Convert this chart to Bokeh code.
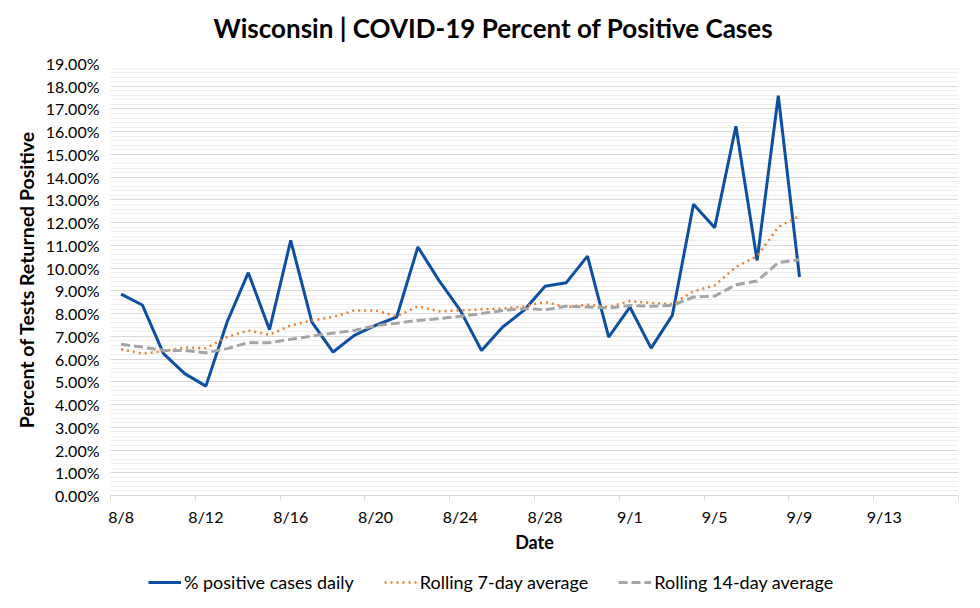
from bokeh.plotting import figure
from bokeh.layouts import column
from bokeh.models import (ColumnDataSource, FixedTicker, PrintfTickFormatter,
                          Range1d, Legend, LegendItem, Title)
from bokeh.embed import file_html
from bokeh.resources import INLINE

# ---- data -------------------------------------------------------------
dates = ["8/8", "8/9", "8/10", "8/11", "8/12", "8/13", "8/14", "8/15", "8/16",
         "8/17", "8/18", "8/19", "8/20", "8/21", "8/22", "8/23", "8/24", "8/25",
         "8/26", "8/27", "8/28", "8/29", "8/30", "8/31", "9/1", "9/2", "9/3",
         "9/4", "9/5", "9/6", "9/7", "9/8", "9/9"]
daily = [8.86, 8.38, 6.24, 5.36, 4.81, 7.63, 9.80, 7.29, 11.22, 7.63, 6.31,
         7.04, 7.48, 7.85, 10.93, 9.45, 8.14, 6.38, 7.41, 8.14, 9.20, 9.36,
         10.53, 6.97, 8.29, 6.48, 7.92, 12.81, 11.78, 16.24, 10.34, 17.58, 9.61]
avg7 = [6.43, 6.24, 6.34, 6.51, 6.48, 6.97, 7.26, 7.07, 7.48, 7.70, 7.85,
        8.14, 8.14, 7.88, 8.32, 8.10, 8.14, 8.19, 8.22, 8.32, 8.51, 8.29,
        8.39, 8.29, 8.55, 8.47, 8.42, 8.98, 9.24, 10.05, 10.53, 11.81, 12.29]
avg14 = [6.65, 6.53, 6.38, 6.38, 6.28, 6.46, 6.72, 6.72, 6.87, 7.01, 7.14,
         7.26, 7.47, 7.58, 7.70, 7.78, 7.88, 8.00, 8.14, 8.22, 8.17, 8.32,
         8.29, 8.25, 8.36, 8.32, 8.36, 8.73, 8.77, 9.27, 9.43, 10.24, 10.37]
tick_labels = ["8/8", "8/12", "8/16", "8/20", "8/24", "8/28", "9/1", "9/5",
               "9/9", "9/13"]
series_names = ["% positive cases daily", "Rolling 7-day average",
                "Rolling 14-day average"]
n_days_axis = 40  # 8/8 .. 9/16

FONT = "Lato"
BLUE, ORANGE, GREY = "#0D4FA3", "#ED7D31", "#A5A5A5"
STYLES = [dict(line_color=BLUE, line_width=3),
          dict(line_color=ORANGE, line_width=2.5, line_dash="2 4"),
          dict(line_color=GREY, line_width=3, line_dash="9 4")]

x = list(range(len(dates)))
src = ColumnDataSource(dict(x=x, date=dates, daily=daily, avg7=avg7, avg14=avg14))

W = 964
p = figure(width=W, height=565, output_backend="svg", toolbar_location=None,
           x_range=Range1d(-0.5, n_days_axis - 0.5), y_range=Range1d(0, 19),
           min_border_left=110, min_border_right=6, min_border_top=63,
           min_border_bottom=70)
p.background_fill_color = "white"
p.border_fill_color = "white"
p.outline_line_color = None
p.title.text = ""

# spacer (nearest the frame) and the visible title above it
spacer = Title(text=" ", text_font_size="2px", standoff=16)
p.add_layout(spacer, "above")
main_title = Title(text="Wisconsin | COVID-19 Percent of Positive Cases",
                   align="left", offset=103, standoff=0,
                   text_font=FONT, text_font_style="bold",
                   text_font_size="26px", text_color="black")
p.add_layout(main_title, "above")

# x axis
xt = list(range(0, n_days_axis, 4))
p.xaxis.ticker = FixedTicker(ticks=xt,
                             minor_ticks=[v - 0.5 for v in range(0, n_days_axis + 1, 4)])
p.xaxis.major_label_overrides = {t: lab for t, lab in zip(xt, tick_labels)}
p.xaxis.axis_line_color = "#D9D9D9"
p.xaxis.major_tick_line_color = None
p.xaxis.major_tick_out = 0
p.xaxis.major_tick_in = 0
p.xaxis.minor_tick_line_color = "#D9D9D9"
p.xaxis.minor_tick_out = 5
p.xaxis.minor_tick_in = 0
p.xaxis.major_label_standoff = 6
p.xaxis.major_label_text_font = FONT
p.xaxis.major_label_text_font_size = "16px"
p.xaxis.major_label_text_color = "black"
p.xaxis.axis_label = "Date"
p.xaxis.axis_label_text_font = FONT
p.xaxis.axis_label_text_font_style = "bold"
p.xaxis.axis_label_text_font_size = "18px"
p.xaxis.axis_label_text_color = "black"
p.xaxis.axis_label_standoff = 2
p.xgrid.grid_line_color = None

# y axis
yt = list(range(0, 20))
ym = [i / 5 for i in range(0, 96)]
yticker = FixedTicker(ticks=yt, minor_ticks=ym)
p.yaxis.ticker = yticker
p.ygrid.ticker = yticker
p.yaxis.formatter = PrintfTickFormatter(format="%.2f%%")
p.yaxis.axis_line_color = None
p.yaxis.major_tick_line_color = None
p.yaxis.minor_tick_line_color = None
p.yaxis.major_tick_out = 0
p.yaxis.major_tick_in = 0
p.yaxis.minor_tick_out = 0
p.yaxis.major_label_standoff = 11
p.yaxis.major_label_text_font = FONT
p.yaxis.major_label_text_font_size = "16px"
p.yaxis.major_label_text_color = "black"
p.yaxis.axis_label = "Percent of Tests Returned Positive"
p.yaxis.axis_label_text_font = FONT
p.yaxis.axis_label_text_font_style = "bold"
p.yaxis.axis_label_text_font_size = "19.5px"
p.yaxis.axis_label_text_color = "black"
p.yaxis.axis_label_standoff = 5
p.ygrid.grid_line_color = "#D9D9D9"
p.ygrid.minor_grid_line_color = "#EEEEEE"

# lines
for col, st in zip(["daily", "avg7", "avg14"], STYLES):
    p.line("x", col, source=src, **st)

# legend strip (separate small figure so the legend is not clipped)
pl = figure(width=W, height=27, output_backend="svg", toolbar_location=None,
            x_range=Range1d(0, 1), y_range=Range1d(0, 1),
            min_border_left=0, min_border_right=0, min_border_top=0,
            min_border_bottom=0)
pl.axis.visible = False
pl.grid.visible = False
pl.outline_line_color = None
pl.background_fill_color = "white"
pl.border_fill_color = "white"
offscreen = ColumnDataSource(dict(x=[-5, -4], y=[-5, -5]))
items = []
for name, st in zip(series_names, STYLES):
    r = pl.line("x", "y", source=offscreen, **st)
    items.append(LegendItem(label=name, renderers=[r]))

legend = Legend(items=items, orientation="horizontal", location=(38, -1))
legend.padding = 0
legend.margin = 0
legend.spacing = 30
legend.label_standoff = 3
legend.glyph_width = 33
legend.glyph_height = 16
legend.label_text_font = FONT
legend.label_text_font_size = "18px"
legend.label_text_color = "black"
legend.border_line_color = None
legend.background_fill_alpha = 0
pl.add_layout(legend, "center")

layout = column(p, pl, spacing=0)

open("out.html", "w").write(file_html(layout, INLINE))
